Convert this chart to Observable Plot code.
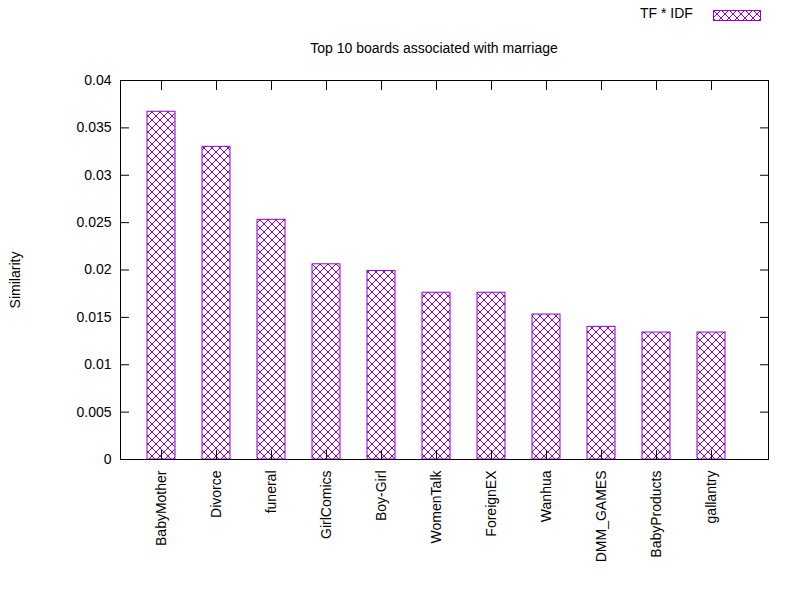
<!DOCTYPE html>
<html><head><meta charset="utf-8">
<script src="https://cdn.jsdelivr.net/npm/d3@7"></script>
<script src="https://cdn.jsdelivr.net/npm/@observablehq/plot@0.6"></script>
<style>
body{margin:0;background:#fff;font-family:"Liberation Sans",Arial,sans-serif}
#wrap{position:relative;width:800px;height:600px}
.t{position:absolute;font-size:14px;color:#000;white-space:nowrap}
</style></head><body>
<div id="wrap">
  <div class="t" style="left:0;width:868px;top:40px;text-align:center">Top 10 boards associated with marriage</div>
  <div class="t" style="left:640px;top:5px">TF * IDF</div>
  <svg style="position:absolute;left:713px;top:10px" width="48" height="11">
    <rect x="0.5" y="0.5" width="47" height="10" fill="url(#xh2)" stroke="#9400d3"/>
  </svg>
  <div id="chart"></div>
  <div class="t" style="left:15px;top:280px;transform:translate(-50%,-50%) rotate(-90deg);transform-origin:center">Similarity</div>
</div>
<script>
const boards = ["BabyMother","Divorce","funeral","GirlComics","Boy-Girl","WomenTalk","ForeignEX","Wanhua","DMM_GAMES","BabyProducts","gallantry"];
const similarity = [0.0367,0.0330,0.0253,0.0206,0.0199,0.0176,0.0176,0.0153,0.0140,0.0134,0.0134];
const data = boards.map((b, i) => ({board: b, value: similarity[i]}));
const fmt = d => String(+d.toFixed(3));

const chart = Plot.plot({
  width: 800, height: 600,
  marginLeft: 120, marginRight: 32, marginTop: 80, marginBottom: 141,
  style: {fontSize: "14px", fontFamily: "Liberation Sans, Arial, sans-serif", color: "#000"},
  x: {domain: boards, paddingInner: 0.49, paddingOuter: 0.635, align: 0.386, label: null},
  y: {domain: [0, 0.04], label: null, ticks: d3.range(0, 0.0401, 0.005)},
  marks: [
    Plot.barY(data, {x: "board", y: "value", fill: "url(#xh)", stroke: "#9400d3", strokeWidth: 1}),
    Plot.axisY({anchor: "left", tickSize: -9, tickPadding: 18, tickFormat: fmt, ticks: d3.range(0, 0.0401, 0.005), label: null}),
    Plot.axisY({anchor: "right", tickSize: -9, tickFormat: () => "", ticks: d3.range(0, 0.0401, 0.005), label: null}),
    Plot.axisX({anchor: "bottom", tickSize: -9, tickRotate: -90, tickPadding: 20, label: null}),
    Plot.axisX({anchor: "top", tickSize: -9, tickFormat: () => "", label: null}),
    Plot.frame({stroke: "#000"})
  ]
});
const defs = d3.select(chart).insert("defs", ":first-child");
["xh", "xh2"].forEach(id => {
  const p = defs.append("pattern").attr("id", id).attr("patternUnits", "userSpaceOnUse").attr("width", 8).attr("height", 8);
  p.append("rect").attr("width", 8).attr("height", 8).attr("fill", "#fff");
  p.append("path").attr("d", "M0,0L8,8M8,0L0,8M-1,7L1,9M7,-1L9,1M-1,1L1,-1M7,9L9,7").attr("stroke", "#9400d3").attr("stroke-width", 1).attr("fill", "none");
});
d3.select("#chart").append(() => chart);
// the small legend svg uses the same pattern id (xh2) from the chart defs
</script>
</body></html>
